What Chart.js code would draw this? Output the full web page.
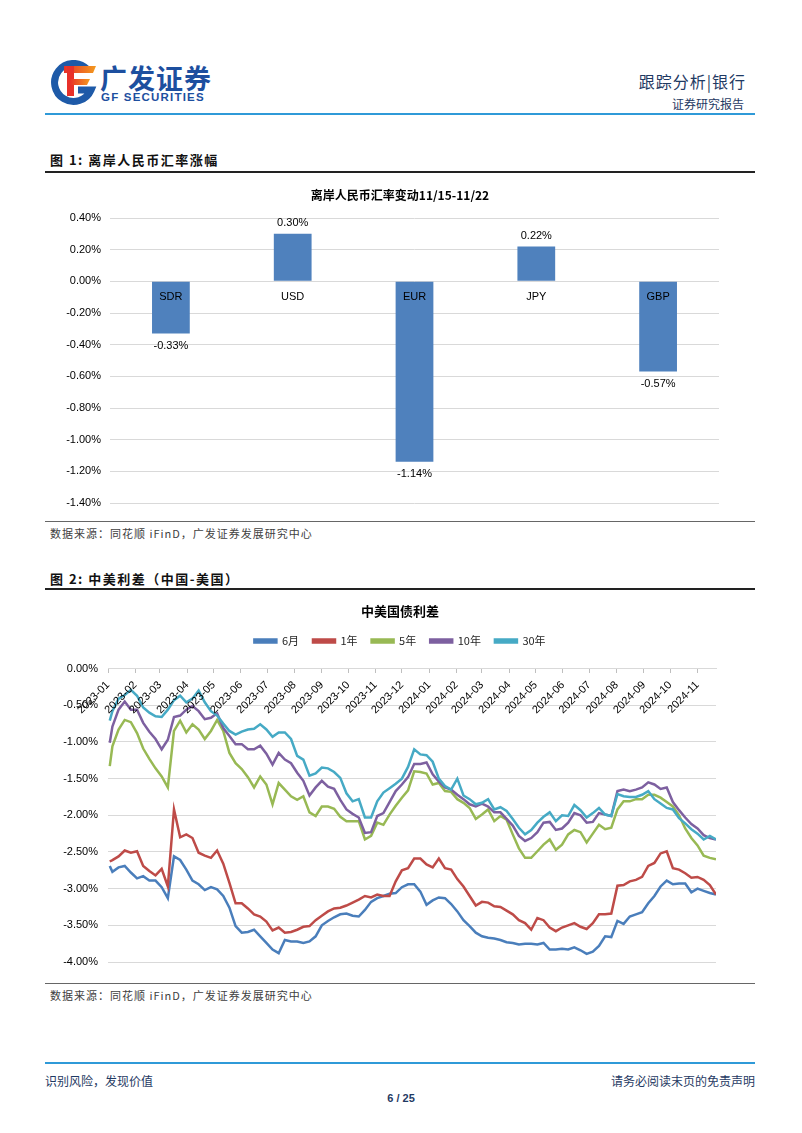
<!DOCTYPE html>
<html>
<head>
<meta charset="utf-8">
<script src="https://cdn.jsdelivr.net/npm/chart.js@4.4.0/dist/chart.umd.min.js"></script>
<style>
    body { margin: 0; background: #fff; }
    #page { position: relative; width: 802px; height: 1133px; overflow: hidden; background: #fff;
        font-family: "Noto Sans CJK SC", "Liberation Sans", sans-serif; }
    .abs { position: absolute; white-space: nowrap; }
    .rule { position: absolute; left: 45px; width: 710px; }
    .fig-title { font-size: 13px; font-weight: bold; color: #111; left: 50px; letter-spacing: 1.5px; }
    .source { font-size: 11px; color: #404040; left: 50px; letter-spacing: 1px; }
    .navy { color: #1f3a63; }
    canvas { position: absolute; }
</style>
</head>
<body>
<div id="page">
    <!-- header -->
    <svg class="abs" style="left:50px;top:60px" width="48" height="46" viewBox="0 0 48 46">
        <defs>
            <linearGradient id="fg" x1="0" y1="0" x2="1" y2="0">
                <stop offset="0" stop-color="#e8312a"/>
                <stop offset="1" stop-color="#f39a1e"/>
            </linearGradient>
        </defs>
        <path d="M37 9 A19 19 0 1 0 41 30 L28 30" stroke="#1e5aa8" stroke-width="7" fill="none"/>
        <path d="M14 6 L46 6 L43 13 L14 13 Z" fill="url(#fg)"/>
        <path d="M17 6 L24 6 L24 36 L17 36 Z" fill="#e8312a"/>
        <path d="M20 19 L40 19 L37 25 L20 25 Z" fill="url(#fg)"/>
    </svg>
    <div class="abs" style="left:100px;top:58px;font-size:27px;font-weight:bold;color:#1d4f9f;letter-spacing:1px">广发证券</div>
    <div class="abs" style="left:101px;top:91px;font-size:11.5px;font-weight:bold;color:#1d4f9f;letter-spacing:1.2px;font-family:'Liberation Sans',sans-serif">GF SECURITIES</div>
    <div class="abs navy" style="right:56px;top:69px;font-size:16px;letter-spacing:1px">跟踪分析|银行</div>
    <div class="abs navy" style="right:58px;top:95px;font-size:12px">证券研究报告</div>
    <div class="rule" style="top:113px;height:2px;background:#2f9ad8"></div>

    <!-- figure 1 -->
    <div class="abs fig-title" style="top:150px">图 1:&nbsp;离岸人民币汇率涨幅</div>
    <div class="rule" style="top:171px;height:2px;background:#222"></div>
    <canvas id="fxChart" width="720" height="343" style="left:40px;top:180px"></canvas>
    <div class="rule" style="top:521px;height:1px;background:#666"></div>
    <div class="abs source" style="top:525px">数据来源：同花顺 iFinD，广发证券发展研究中心</div>

    <!-- figure 2 -->
    <div class="abs fig-title" style="top:569px">图 2:&nbsp;中美利差（中国-美国）</div>
    <div class="rule" style="top:588px;height:2px;background:#222"></div>
    <canvas id="spreadChart" width="720" height="387" style="left:40px;top:595px"></canvas>
    <div class="rule" style="top:983px;height:1px;background:#666"></div>
    <div class="abs source" style="top:987px">数据来源：同花顺 iFinD，广发证券发展研究中心</div>

    <!-- footer -->
    <div class="rule" style="top:1062px;height:2px;background:#2f9ad8"></div>
    <div class="abs navy" style="left:45px;top:1072px;font-size:12px">识别风险，发现价值</div>
    <div class="abs navy" style="right:47px;top:1072px;font-size:12px">请务必阅读末页的免责声明</div>
    <div class="abs navy" style="left:0;width:802px;text-align:center;top:1092px;font-size:11px;font-weight:bold;font-family:'Liberation Sans',sans-serif">6 / 25</div>
</div>

<script>
// 图1 离岸人民币汇率变动 (%)
const fxCurrencies = ['SDR', 'USD', 'EUR', 'JPY', 'GBP'];
const fxChange = [-0.33, 0.30, -1.14, 0.22, -0.57];

// 图2 中美国债利差 (%), weekly readings
const spreadDates = [
    '2023-01-03', '2023-01-06', '2023-01-13', '2023-01-20', '2023-01-27', '2023-02-03', '2023-02-10', '2023-02-17', '2023-02-24',
    '2023-03-03', '2023-03-10', '2023-03-17', '2023-03-24', '2023-03-31', '2023-04-07', '2023-04-14', '2023-04-21', '2023-04-28',
    '2023-05-05', '2023-05-12', '2023-05-19', '2023-05-26', '2023-06-02', '2023-06-09', '2023-06-16', '2023-06-23', '2023-06-30',
    '2023-07-07', '2023-07-14', '2023-07-21', '2023-07-28', '2023-08-04', '2023-08-11', '2023-08-18', '2023-08-25',
    '2023-09-01', '2023-09-08', '2023-09-15', '2023-09-22', '2023-09-29', '2023-10-06', '2023-10-13', '2023-10-20', '2023-10-27',
    '2023-11-03', '2023-11-10', '2023-11-17', '2023-11-24', '2023-12-01', '2023-12-08', '2023-12-15', '2023-12-22', '2023-12-29',
    '2024-01-05', '2024-01-12', '2024-01-19', '2024-01-26', '2024-02-02', '2024-02-09', '2024-02-16', '2024-02-23',
    '2024-03-01', '2024-03-08', '2024-03-15', '2024-03-22', '2024-03-29', '2024-04-05', '2024-04-12', '2024-04-19', '2024-04-26',
    '2024-05-03', '2024-05-10', '2024-05-17', '2024-05-24', '2024-05-31', '2024-06-07', '2024-06-14', '2024-06-21', '2024-06-28',
    '2024-07-05', '2024-07-12', '2024-07-19', '2024-07-26', '2024-08-02', '2024-08-09', '2024-08-16', '2024-08-23', '2024-08-30',
    '2024-09-06', '2024-09-13', '2024-09-20', '2024-09-27', '2024-10-04', '2024-10-11', '2024-10-18', '2024-10-25',
    '2024-11-01', '2024-11-08', '2024-11-15', '2024-11-22'
];
const spread6m = [
    -2.69, -2.77, -2.71, -2.69, -2.78, -2.86, -2.83, -2.89, -2.89, -2.98, -3.13, -2.56, -2.61, -2.74, -2.89, -2.94, -3.02, -2.98,
    -3.01, -3.10, -3.26, -3.51, -3.60, -3.59, -3.56, -3.65, -3.74, -3.83, -3.88, -3.70, -3.72, -3.72, -3.74, -3.72, -3.65,
    -3.50, -3.44, -3.39, -3.35, -3.34, -3.37, -3.38, -3.29, -3.18, -3.13, -3.10, -3.07, -3.06, -2.98, -2.94, -2.94, -3.04, -3.22,
    -3.16, -3.12, -3.13, -3.21, -3.31, -3.43, -3.51, -3.60, -3.65, -3.67, -3.68, -3.70, -3.73, -3.74, -3.76, -3.75, -3.75,
    -3.76, -3.74, -3.83, -3.83, -3.82, -3.83, -3.80, -3.84, -3.89, -3.86, -3.78, -3.65, -3.66, -3.44, -3.48, -3.38, -3.35, -3.32,
    -3.20, -3.10, -2.97, -2.89, -2.94, -2.93, -2.93, -3.05, -3.00, -3.03, -3.06, -3.08
];
const spread1y = [
    -2.63, -2.61, -2.56, -2.48, -2.51, -2.49, -2.69, -2.76, -2.82, -2.73, -2.97, -1.92, -2.30, -2.26, -2.31, -2.51, -2.55, -2.58,
    -2.48, -2.66, -2.92, -3.20, -3.20, -3.27, -3.35, -3.38, -3.45, -3.57, -3.53, -3.60, -3.59, -3.56, -3.52, -3.51, -3.43,
    -3.37, -3.31, -3.27, -3.26, -3.23, -3.19, -3.15, -3.10, -3.12, -3.08, -3.10, -3.10, -2.90, -2.75, -2.72, -2.59, -2.59, -2.67,
    -2.71, -2.59, -2.72, -2.74, -2.87, -2.97, -3.10, -3.23, -3.18, -3.19, -3.24, -3.25, -3.30, -3.35, -3.43, -3.47, -3.56,
    -3.40, -3.43, -3.53, -3.58, -3.53, -3.50, -3.47, -3.52, -3.55, -3.47, -3.35, -3.35, -3.34, -2.96, -2.95, -2.90, -2.88, -2.84,
    -2.69, -2.65, -2.52, -2.49, -2.72, -2.74, -2.79, -2.85, -2.84, -2.88, -2.95, -3.08
];
const spread5y = [
    -1.33, -1.06, -0.83, -0.70, -0.73, -0.88, -1.09, -1.23, -1.36, -1.47, -1.62, -0.85, -0.71, -0.87, -0.76, -0.83, -0.96, -0.85,
    -0.70, -0.85, -1.15, -1.29, -1.37, -1.48, -1.62, -1.47, -1.58, -1.85, -1.56, -1.65, -1.74, -1.79, -1.74, -1.96, -2.01,
    -1.88, -1.88, -1.91, -2.02, -2.08, -2.08, -2.08, -2.33, -2.28, -2.10, -2.13, -1.99, -1.87, -1.76, -1.66, -1.40, -1.41, -1.43,
    -1.58, -1.56, -1.67, -1.68, -1.78, -1.83, -1.90, -2.05, -1.99, -1.92, -2.08, -2.01, -2.06, -2.26, -2.45, -2.58, -2.58,
    -2.49, -2.40, -2.33, -2.47, -2.40, -2.26, -2.20, -2.23, -2.37, -2.25, -2.13, -2.19, -2.17, -1.92, -1.81, -1.81, -1.78, -1.78,
    -1.72, -1.72, -1.76, -1.82, -1.88, -2.00, -2.18, -2.31, -2.41, -2.55, -2.58, -2.60
];
const spread10y = [
    -1.01, -0.79, -0.56, -0.45, -0.56, -0.56, -0.74, -0.86, -0.96, -1.10, -0.97, -0.66, -0.64, -0.56, -0.51, -0.58, -0.69, -0.67,
    -0.61, -0.81, -0.92, -1.03, -1.03, -1.10, -1.10, -1.05, -1.16, -1.31, -1.15, -1.24, -1.29, -1.42, -1.53, -1.73, -1.62,
    -1.53, -1.61, -1.64, -1.79, -1.92, -1.98, -2.03, -2.24, -2.23, -2.01, -1.97, -1.82, -1.67, -1.58, -1.48, -1.30, -1.30, -1.28,
    -1.44, -1.54, -1.62, -1.65, -1.72, -1.78, -1.85, -1.88, -1.84, -1.88, -1.96, -1.96, -2.05, -2.14, -2.28, -2.35, -2.31,
    -2.23, -2.10, -2.09, -2.20, -2.18, -2.10, -1.97, -2.00, -2.10, -2.09, -1.97, -1.99, -2.01, -1.67, -1.65, -1.67, -1.65, -1.62,
    -1.55, -1.58, -1.64, -1.62, -1.82, -1.93, -2.03, -2.12, -2.18, -2.27, -2.31, -2.33
];
const spread30y = [
    -0.71, -0.58, -0.41, -0.36, -0.29, -0.37, -0.53, -0.60, -0.65, -0.66, -0.56, -0.43, -0.37, -0.46, -0.41, -0.30, -0.46, -0.58,
    -0.64, -0.75, -0.85, -0.90, -0.86, -0.83, -0.82, -0.76, -0.83, -0.93, -0.87, -0.87, -0.96, -1.19, -1.24, -1.46, -1.43,
    -1.35, -1.36, -1.41, -1.49, -1.70, -1.81, -1.78, -2.03, -2.03, -1.81, -1.69, -1.63, -1.57, -1.50, -1.34, -1.10, -1.17, -1.18,
    -1.27, -1.50, -1.60, -1.65, -1.50, -1.73, -1.78, -1.85, -1.83, -1.78, -1.92, -1.89, -1.94, -2.05, -2.17, -2.26, -2.20,
    -2.10, -2.02, -1.96, -2.08, -2.00, -2.01, -1.86, -1.93, -2.03, -1.97, -1.90, -1.99, -2.01, -1.71, -1.74, -1.75, -1.75, -1.72,
    -1.67, -1.78, -1.84, -1.90, -1.92, -2.04, -2.11, -2.19, -2.25, -2.33, -2.28, -2.33
];
const spreadNames = ['6月', '1年', '5年', '10年', '30年'];
const monthTicks = [
    '2023-01', '2023-02', '2023-03', '2023-04', '2023-05', '2023-06', '2023-07', '2023-08', '2023-09', '2023-10', '2023-11', '2023-12',
    '2024-01', '2024-02', '2024-03', '2024-04', '2024-05', '2024-06', '2024-07', '2024-08', '2024-09', '2024-10', '2024-11'
];

const lineColors = ['#4a7ebb', '#be4b48', '#98b954', '#7d60a0', '#46aac5'];
const LATIN = '"Liberation Sans", Arial, sans-serif';
const CJK = '"Noto Sans CJK SC", "Liberation Sans", sans-serif';

Chart.defaults.font.family = LATIN;
Chart.defaults.color = '#000';

function dayOf(s) {
    return (Date.parse(s) - Date.parse('2023-01-01')) / 86400000;
}

function pct(v) {
    return `${Number(v).toFixed(2)}%`;
}

// empty right-hand axis: keeps the plot narrow while title/legend stay centred on the page
function spacerAxis(width) {
    return {
        position: 'right',
        grid: { display: false },
        border: { display: false },
        ticks: { display: false },
        afterFit: scale => { scale.width = width; }
    };
}

// value labels above / below each bar
const barValueLabels = {
    id: 'barValueLabels',
    afterDatasetsDraw(chart) {
        const { ctx } = chart;
        const meta = chart.getDatasetMeta(0);
        ctx.save();
        ctx.font = `11px ${LATIN}`;
        ctx.fillStyle = '#000';
        ctx.textAlign = 'center';
        ctx.textBaseline = 'middle';
        meta.data.forEach((bar, i) => {
            const v = fxChange[i];
            ctx.fillText(pct(v), bar.x, v >= 0 ? bar.y - 11 : bar.y + 12);
        });
        ctx.restore();
    }
};

// leave some room between the legend row and the plot
const legendGap = {
    id: 'legendGap',
    beforeInit(chart) {
        const fit = chart.legend.fit;
        chart.legend.fit = function () {
            fit.call(this);
            this.height += 12;
        };
    }
};

function renderFxChart() {
    new Chart(document.getElementById('fxChart'), {
        type: 'bar',
        data: {
            labels: fxCurrencies,
            datasets: [{
                data: fxChange,
                backgroundColor: '#4f81bd',
                categoryPercentage: 1,
                barPercentage: 0.31
            }]
        },
        options: {
            responsive: false,
            animation: false,
            devicePixelRatio: 1,
            layout: { padding: { left: 0, right: 0, top: 0, bottom: 20 } },
            plugins: {
                legend: { display: false },
                tooltip: { enabled: false },
                title: {
                    display: true,
                    text: '离岸人民币汇率变动11/15-11/22',
                    color: '#000',
                    font: { family: CJK, size: 12, weight: 'bold' },
                    padding: { top: 8, bottom: 15.6 }
                }
            },
            scales: {
                x: {
                    position: { y: 0 },
                    grid: { display: false },
                    border: { display: false },
                    ticks: { color: '#000', font: { size: 11 }, padding: 1, z: 1 }
                },
                y: {
                    min: -1.4,
                    max: 0.4,
                    afterFit: scale => { scale.width = 70; },
                    grid: { color: '#d9d9d9', drawTicks: false },
                    border: { display: false },
                    ticks: { stepSize: 0.2, padding: 9, color: '#000', font: { size: 11 }, callback: v => pct(v) }
                },
                yRight: spacerAxis(41)
            }
        },
        plugins: [barValueLabels]
    });
}

function renderSpreadChart() {
    const series = [spread6m, spread1y, spread5y, spread10y, spread30y];
    const datasets = series.map((values, s) => ({
        label: spreadNames[s],
        data: values.map((v, i) => ({ x: dayOf(spreadDates[i]), y: v })),
        borderColor: lineColors[s],
        backgroundColor: lineColors[s],
        borderWidth: 2.5,
        pointRadius: 0,
        tension: 0,
        order: series.length - s
    }));

    new Chart(document.getElementById('spreadChart'), {
        type: 'line',
        data: { datasets },
        options: {
            responsive: false,
            animation: false,
            devicePixelRatio: 1,
            layout: { padding: { left: 0, right: 0, top: 0, bottom: 20 } },
            plugins: {
                tooltip: { enabled: false },
                title: {
                    display: true,
                    text: '中美国债利差',
                    color: '#000',
                    font: { family: CJK, size: 13, weight: 'bold' },
                    padding: { top: 8, bottom: 3 }
                },
                legend: {
                    display: true,
                    position: 'top',
                    labels: {
                        boxWidth: 22,
                        boxHeight: 3,
                        padding: 14,
                        color: '#262626',
                        font: { family: CJK, size: 11 },
                        sort: (a, b) => a.datasetIndex - b.datasetIndex
                    }
                }
            },
            scales: {
                x: {
                    type: 'linear',
                    min: 0,
                    max: dayOf('2024-11-22'),
                    position: { y: 0 },
                    afterBuildTicks: scale => {
                        scale.ticks = monthTicks.map(m => ({ value: dayOf(`${m}-01`) }));
                    },
                    grid: { drawOnChartArea: false, drawTicks: true, tickLength: 4, color: '#bfbfbf' },
                    border: { display: true, color: '#d9d9d9' },
                    ticks: {
                        autoSkip: false,
                        minRotation: 45,
                        maxRotation: 45,
                        padding: 6,
                        z: 1,
                        color: '#000',
                        font: { size: 11 },
                        callback: (value, index) => monthTicks[index]
                    }
                },
                y: {
                    min: -4,
                    max: 0,
                    afterFit: scale => { scale.width = 68; },
                    grid: { color: '#d9d9d9', drawTicks: false },
                    border: { display: false },
                    ticks: { stepSize: 0.5, padding: 10, color: '#000', font: { size: 11 }, callback: v => pct(v) }
                },
                yRight: spacerAxis(44)
            }
        },
        plugins: [legendGap]
    });
}

window.addEventListener('DOMContentLoaded', () => {
    renderFxChart();
    renderSpreadChart();
});
</script>
</body>
</html>
